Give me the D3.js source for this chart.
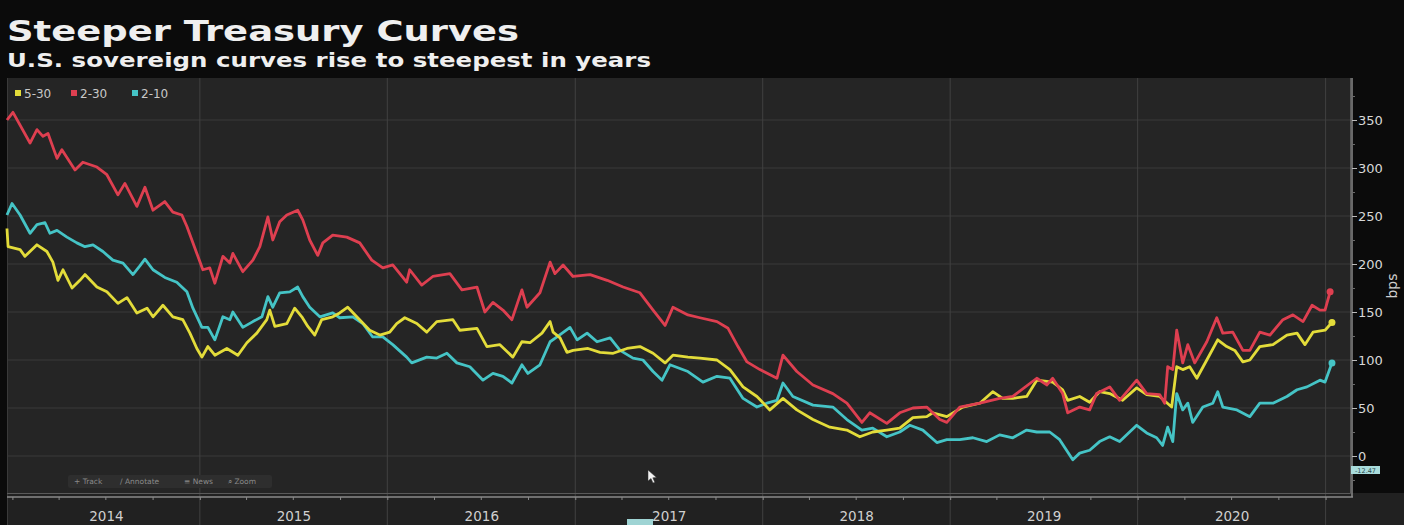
<!DOCTYPE html>
<html>
<head>
<meta charset="utf-8">
<script src="https://cdn.jsdelivr.net/npm/d3@7"></script>
<style>
  body { margin: 0; background: #0b0b0b; }
  svg { display: block; }
</style>
</head>
<body>
<svg id="chart" width="1404" height="525"></svg>
<script>

// series values, [decimal year, bps]
var s530 = [[2013.971,237],[2013.977,218],[2014.041,215],[2014.067,208],[2014.131,220],[2014.184,213],[2014.216,202],[2014.243,183],[2014.270,194],[2014.318,175],[2014.360,183],[2014.387,189],[2014.451,176],[2014.504,171],[2014.563,159],[2014.611,165],[2014.664,149],[2014.718,154],[2014.750,145],[2014.803,157],[2014.856,145],[2014.909,142],[2014.947,128],[2014.984,112],[2015.011,103],[2015.043,114],[2015.080,105],[2015.144,112],[2015.203,105],[2015.251,118],[2015.304,128],[2015.357,142],[2015.373,152],[2015.400,135],[2015.464,138],[2015.506,154],[2015.544,145],[2015.576,135],[2015.613,126],[2015.650,142],[2015.709,145],[2015.746,149],[2015.789,155],[2015.837,145],[2015.906,131],[2015.960,126],[2016.013,129],[2016.050,138],[2016.093,144],[2016.157,138],[2016.210,129],[2016.263,140],[2016.349,142],[2016.386,131],[2016.477,133],[2016.530,114],[2016.599,116],[2016.668,103],[2016.716,119],[2016.759,118],[2016.823,128],[2016.866,140],[2016.882,129],[2016.919,123],[2016.956,108],[2016.988,110],[2017.068,112],[2017.132,108],[2017.202,107],[2017.276,112],[2017.345,114],[2017.415,107],[2017.479,97],[2017.521,105],[2017.601,103],[2017.665,102],[2017.756,100],[2017.825,90],[2017.895,72],[2017.969,62],[2018.038,48],[2018.108,60],[2018.182,48],[2018.268,38],[2018.358,30],[2018.449,27],[2018.518,20],[2018.587,25],[2018.662,27],[2018.731,29],[2018.801,40],[2018.875,41],[2018.907,45],[2018.982,41],[2019.067,51],[2019.158,55],[2019.227,67],[2019.280,60],[2019.334,60],[2019.408,62],[2019.462,79],[2019.547,77],[2019.600,69],[2019.627,58],[2019.691,62],[2019.744,56],[2019.797,67],[2019.851,65],[2019.920,58],[2019.995,71],[2020.048,64],[2020.117,62],[2020.181,51],[2020.208,93],[2020.240,90],[2020.277,93],[2020.315,81],[2020.368,100],[2020.426,121],[2020.474,114],[2020.517,110],[2020.560,98],[2020.597,100],[2020.650,114],[2020.720,116],[2020.794,126],[2020.848,128],[2020.890,116],[2020.933,129],[2020.997,131],[2021.034,139]]

var s230 = [[2013.971,350],[2014.003,358],[2014.094,326],[2014.131,340],[2014.163,333],[2014.190,336],[2014.238,310],[2014.264,319],[2014.334,298],[2014.376,306],[2014.451,301],[2014.504,293],[2014.563,272],[2014.600,284],[2014.664,260],[2014.707,280],[2014.750,256],[2014.813,265],[2014.856,254],[2014.904,251],[2014.931,239],[2014.984,211],[2015.016,194],[2015.053,196],[2015.080,180],[2015.123,208],[2015.160,201],[2015.176,211],[2015.229,192],[2015.283,204],[2015.320,218],[2015.363,249],[2015.389,225],[2015.426,244],[2015.464,251],[2015.522,256],[2015.549,246],[2015.586,225],[2015.629,209],[2015.656,222],[2015.709,230],[2015.784,228],[2015.853,222],[2015.917,204],[2015.976,196],[2016.029,199],[2016.103,181],[2016.119,194],[2016.183,178],[2016.242,187],[2016.333,190],[2016.397,173],[2016.477,176],[2016.519,150],[2016.562,160],[2016.615,152],[2016.663,142],[2016.716,173],[2016.743,155],[2016.812,170],[2016.866,202],[2016.892,190],[2016.935,199],[2016.988,187],[2017.079,189],[2017.170,183],[2017.255,176],[2017.345,170],[2017.415,152],[2017.479,136],[2017.521,155],[2017.601,147],[2017.665,144],[2017.756,140],[2017.815,133],[2017.868,114],[2017.916,98],[2017.985,90],[2018.076,81],[2018.108,105],[2018.182,88],[2018.268,74],[2018.374,65],[2018.449,55],[2018.529,35],[2018.571,45],[2018.662,34],[2018.731,45],[2018.801,50],[2018.875,51],[2018.945,38],[2018.982,35],[2019.051,51],[2019.158,55],[2019.264,60],[2019.334,62],[2019.462,81],[2019.515,74],[2019.547,81],[2019.600,65],[2019.627,45],[2019.691,51],[2019.744,48],[2019.781,65],[2019.851,72],[2019.904,58],[2019.995,79],[2020.048,65],[2020.117,64],[2020.144,55],[2020.160,93],[2020.187,90],[2020.208,131],[2020.240,97],[2020.267,116],[2020.304,97],[2020.368,119],[2020.421,144],[2020.453,128],[2020.506,129],[2020.560,110],[2020.597,110],[2020.650,129],[2020.704,126],[2020.773,142],[2020.826,147],[2020.880,140],[2020.928,157],[2020.970,152],[2020.997,152],[2021.024,171]]

var s210 = [[2013.971,251],[2013.998,263],[2014.041,251],[2014.094,232],[2014.131,241],[2014.174,243],[2014.200,232],[2014.238,235],[2014.291,228],[2014.344,222],[2014.387,218],[2014.430,220],[2014.483,213],[2014.536,204],[2014.590,201],[2014.643,189],[2014.680,198],[2014.707,205],[2014.750,194],[2014.813,186],[2014.877,181],[2014.931,171],[2014.963,154],[2015.011,134],[2015.043,134],[2015.080,121],[2015.123,145],[2015.160,142],[2015.176,150],[2015.229,134],[2015.283,140],[2015.331,145],[2015.363,166],[2015.389,155],[2015.426,170],[2015.480,171],[2015.522,176],[2015.549,166],[2015.586,155],[2015.640,145],[2015.709,149],[2015.746,144],[2015.816,145],[2015.869,138],[2015.922,124],[2015.976,124],[2016.029,116],[2016.103,103],[2016.130,97],[2016.210,103],[2016.263,102],[2016.317,107],[2016.370,97],[2016.439,93],[2016.509,79],[2016.562,86],[2016.615,83],[2016.663,76],[2016.716,95],[2016.748,86],[2016.812,95],[2016.866,119],[2016.903,124],[2016.972,134],[2017.010,121],[2017.063,128],[2017.116,119],[2017.186,123],[2017.239,110],[2017.308,102],[2017.361,100],[2017.415,88],[2017.463,79],[2017.505,95],[2017.601,88],[2017.681,77],[2017.756,83],[2017.825,81],[2017.895,60],[2017.969,51],[2018.022,55],[2018.076,58],[2018.108,76],[2018.161,62],[2018.268,53],[2018.374,51],[2018.449,38],[2018.529,27],[2018.587,29],[2018.662,20],[2018.731,25],[2018.785,32],[2018.854,27],[2018.929,14],[2018.982,17],[2019.051,17],[2019.121,19],[2019.195,15],[2019.264,22],[2019.334,19],[2019.408,27],[2019.462,25],[2019.531,25],[2019.584,17],[2019.654,-4],[2019.691,3],[2019.744,6],[2019.797,15],[2019.851,20],[2019.904,15],[2019.995,32],[2020.048,24],[2020.101,19],[2020.133,11],[2020.160,30],[2020.187,15],[2020.208,65],[2020.240,48],[2020.267,55],[2020.293,35],[2020.347,51],[2020.400,55],[2020.426,67],[2020.453,51],[2020.528,48],[2020.597,41],[2020.650,55],[2020.720,55],[2020.794,62],[2020.848,69],[2020.901,72],[2020.970,79],[2020.997,77],[2021.034,97]]

var seriesNames = ["5-30", "2-30", "2-10"]
var seriesColors = ["#e3dc3a", "#de3f50", "#45c4c6"]
var yTicks = [0, 50, 100, 150, 200, 250, 300, 350]
var years = [2014, 2015, 2016, 2017, 2018, 2019, 2020]

var dimensions = {
    width: 1404,
    height: 525,
    plotLeft: 7,
    plotRight: 1350,
    plotTop: 78,
    plotBottom: 493,
    axisY: 497
}

// decimal year -> Date
function toDate(t) {
    var yr = Math.floor(t)
    var a = Date.UTC(yr, 0, 1), b = Date.UTC(yr + 1, 0, 1)
    return new Date(a + (t - yr) * (b - a))
}

var svg = d3.select("#chart")

var xScale = d3.scaleUtc()
    .domain([new Date(Date.UTC(2014, 0, 1)), new Date(Date.UTC(2021, 0, 1))])
    .range([12.4, 1325.6])

var yScale = d3.scaleLinear()
    .domain([0, 350])
    .range([456, 120])

// backgrounds
svg.append("rect").attr("width", dimensions.width).attr("height", dimensions.height).attr("fill", "#0b0b0b")
svg.append("rect")
    .attr("x", dimensions.plotLeft).attr("y", dimensions.plotTop)
    .attr("width", dimensions.plotRight - dimensions.plotLeft)
    .attr("height", dimensions.plotBottom - dimensions.plotTop)
    .attr("fill", "#252525")
svg.append("rect")
    .attr("x", dimensions.plotLeft).attr("y", dimensions.plotBottom)
    .attr("width", dimensions.width - dimensions.plotLeft)
    .attr("height", dimensions.height - dimensions.plotBottom)
    .attr("fill", "#212121")

// horizontal grid
svg.append("g")
    .selectAll("line")
    .data(yTicks)
    .enter()
    .append("line")
    .attr("x1", dimensions.plotLeft).attr("x2", dimensions.plotRight)
    .attr("y1", d => yScale(d)).attr("y2", d => yScale(d))
    .attr("stroke", "#3b3b3b").attr("stroke-width", 1)

// vertical year grid
var yearStarts = years.slice(1).concat([2021]).map(y => new Date(Date.UTC(y, 0, 1)))
svg.append("g")
    .selectAll("line")
    .data(yearStarts)
    .enter()
    .append("line")
    .attr("x1", d => xScale(d)).attr("x2", d => xScale(d))
    .attr("y1", dimensions.plotTop).attr("y2", dimensions.height)
    .attr("stroke", "#414141").attr("stroke-width", 1)

// frame
svg.append("line").attr("x1", dimensions.plotLeft + 0.5).attr("x2", dimensions.plotLeft + 0.5)
    .attr("y1", dimensions.plotTop).attr("y2", dimensions.height).attr("stroke", "#3a3a3a")
svg.append("path")
    .attr("d", "M" + dimensions.plotLeft + "," + (dimensions.plotBottom + 0.5) + "H" + (dimensions.plotRight + 0.5) + "V" + dimensions.plotTop)
    .attr("fill", "none").attr("stroke", "#5a5a5a")

// bottom time axis (quarter ticks)
svg.append("line")
    .attr("x1", dimensions.plotLeft).attr("x2", dimensions.plotRight + 3)
    .attr("y1", dimensions.axisY).attr("y2", dimensions.axisY)
    .attr("stroke", "#8a8a8a").attr("stroke-width", 1.5)

var xAxis = svg.append("g")
    .attr("transform", "translate(0," + dimensions.axisY + ")")
    .call(d3.axisBottom(xScale).ticks(d3.utcMonth.every(3)).tickSize(3).tickSizeOuter(0).tickFormat(""))
xAxis.select(".domain").remove()
xAxis.selectAll("line").attr("stroke", "#8a8a8a")

// year labels
var mids = years.map(y => new Date(Date.UTC(y, 6, 2)))
var yearAxis = svg.append("g")
    .attr("transform", "translate(0,500)")
    .call(d3.axisBottom(xScale).tickValues(mids).tickSize(0).tickPadding(11).tickFormat(d3.utcFormat("%Y")))
yearAxis.select(".domain").remove()
yearAxis.selectAll("text")
    .attr("fill", "#d0d0d0")
    .style("font-family", "DejaVu Sans")
    .style("font-size", "13.5px")

// right axis
svg.append("line")
    .attr("x1", 1352).attr("x2", 1352)
    .attr("y1", dimensions.plotTop).attr("y2", dimensions.axisY)
    .attr("stroke", "#8a8a8a").attr("stroke-width", 1.5)

var minorTicks = d3.range(-25, 400, 25)
var yMinor = svg.append("g")
    .attr("transform", "translate(1352,0)")
    .call(d3.axisRight(yScale).tickValues(minorTicks.filter(d => yScale(d) > dimensions.plotTop && yScale(d) < dimensions.axisY)).tickSize(3).tickFormat(""))
yMinor.select(".domain").remove()
yMinor.selectAll("line").attr("stroke", "#6a6a6a")

var yAxis = svg.append("g")
    .attr("transform", "translate(1352,0)")
    .call(d3.axisRight(yScale).tickValues(yTicks).tickSize(5).tickPadding(1))
yAxis.select(".domain").remove()
yAxis.selectAll("line").attr("stroke", "#bbbbbb")
yAxis.selectAll("text")
    .attr("fill", "#d8d8d8")
    .style("font-family", "DejaVu Sans")
    .style("font-size", "13px")

svg.append("text")
    .attr("transform", "translate(1397,286) rotate(-90)")
    .attr("text-anchor", "middle")
    .attr("fill", "#d0d0d0")
    .style("font-family", "DejaVu Sans")
    .style("font-size", "14px")
    .text("bps")

// lines
var line = d3.line()
    .x(d => xScale(toDate(d[0])))
    .y(d => yScale(d[1]))

var allSeries = [s530, s230, s210]
// draw 2-10 first, then 5-30, then 2-30 on top
var drawOrder = [2, 0, 1]
drawOrder.forEach(function (i) {
    svg.append("path")
        .datum(allSeries[i])
        .attr("d", line)
        .attr("fill", "none")
        .attr("stroke", seriesColors[i])
        .attr("stroke-width", 2.8)
        .attr("stroke-linejoin", "round")
    var last = allSeries[i][allSeries[i].length - 1]
    svg.append("circle")
        .attr("cx", xScale(toDate(last[0])))
        .attr("cy", yScale(last[1]))
        .attr("r", 3.5)
        .attr("fill", seriesColors[i])
})

// legend
var legend = svg.append("g").attr("transform", "translate(15,90)")
var legendX = [0, 56, 117]
seriesNames.forEach(function (name, i) {
    legend.append("rect")
        .attr("x", legendX[i]).attr("y", 0)
        .attr("width", 6).attr("height", 6)
        .attr("fill", seriesColors[i])
    legend.append("text")
        .attr("x", legendX[i] + 9).attr("y", 7.5)
        .attr("fill", "#c8c8c8")
        .style("font-family", "DejaVu Sans")
        .style("font-size", "12px")
        .text(name)
})

// titles
svg.append("text")
    .attr("x", 7).attr("y", 41)
    .attr("fill", "#efefef")
    .attr("textLength", 512).attr("lengthAdjust", "spacingAndGlyphs")
    .style("font-family", "DejaVu Sans")
    .style("font-weight", "bold")
    .style("font-size", "29px")
    .text("Steeper Treasury Curves")

svg.append("text")
    .attr("x", 7).attr("y", 67)
    .attr("fill", "#efefef")
    .attr("textLength", 644).attr("lengthAdjust", "spacingAndGlyphs")
    .style("font-family", "DejaVu Sans")
    .style("font-weight", "bold")
    .style("font-size", "20px")
    .text("U.S. sovereign curves rise to steepest in years")

// toolbar
var toolbar = svg.append("g").attr("transform", "translate(68,475)")
toolbar.append("rect").attr("width", 204).attr("height", 13).attr("rx", 2).attr("fill", "#2e2e2e")
var tools = [["+ Track", 6], ["\u2215 Annotate", 52], ["\u2261 News", 116], ["\u2315 Zoom", 160]]
tools.forEach(function (t) {
    toolbar.append("text")
        .attr("x", t[1]).attr("y", 9)
        .attr("fill", "#8a8a8a")
        .style("font-family", "DejaVu Sans")
        .style("font-size", "7.5px")
        .text(t[0])
})

// tags on the axes
var tag = svg.append("g").attr("transform", "translate(1351,466)")
tag.append("rect").attr("width", 29).attr("height", 8).attr("fill", "#a9dcdc")
tag.append("text").attr("x", 14.5).attr("y", 6.5).attr("text-anchor", "middle")
    .attr("fill", "#2a4a4a").style("font-family", "DejaVu Sans").style("font-size", "6.5px").text("-12.47")
svg.append("rect").attr("x", 627).attr("y", 519).attr("width", 26).attr("height", 6).attr("fill", "#9fd4d4")

// mouse pointer
svg.append("path")
    .attr("d", "M648,470 L648,481 L651,478.5 L653,483 L654.8,482.2 L652.8,477.8 L656.5,477.5 Z")
    .attr("fill", "#f2f2f2").attr("stroke", "#333").attr("stroke-width", 0.5)

</script>
</body>
</html>
